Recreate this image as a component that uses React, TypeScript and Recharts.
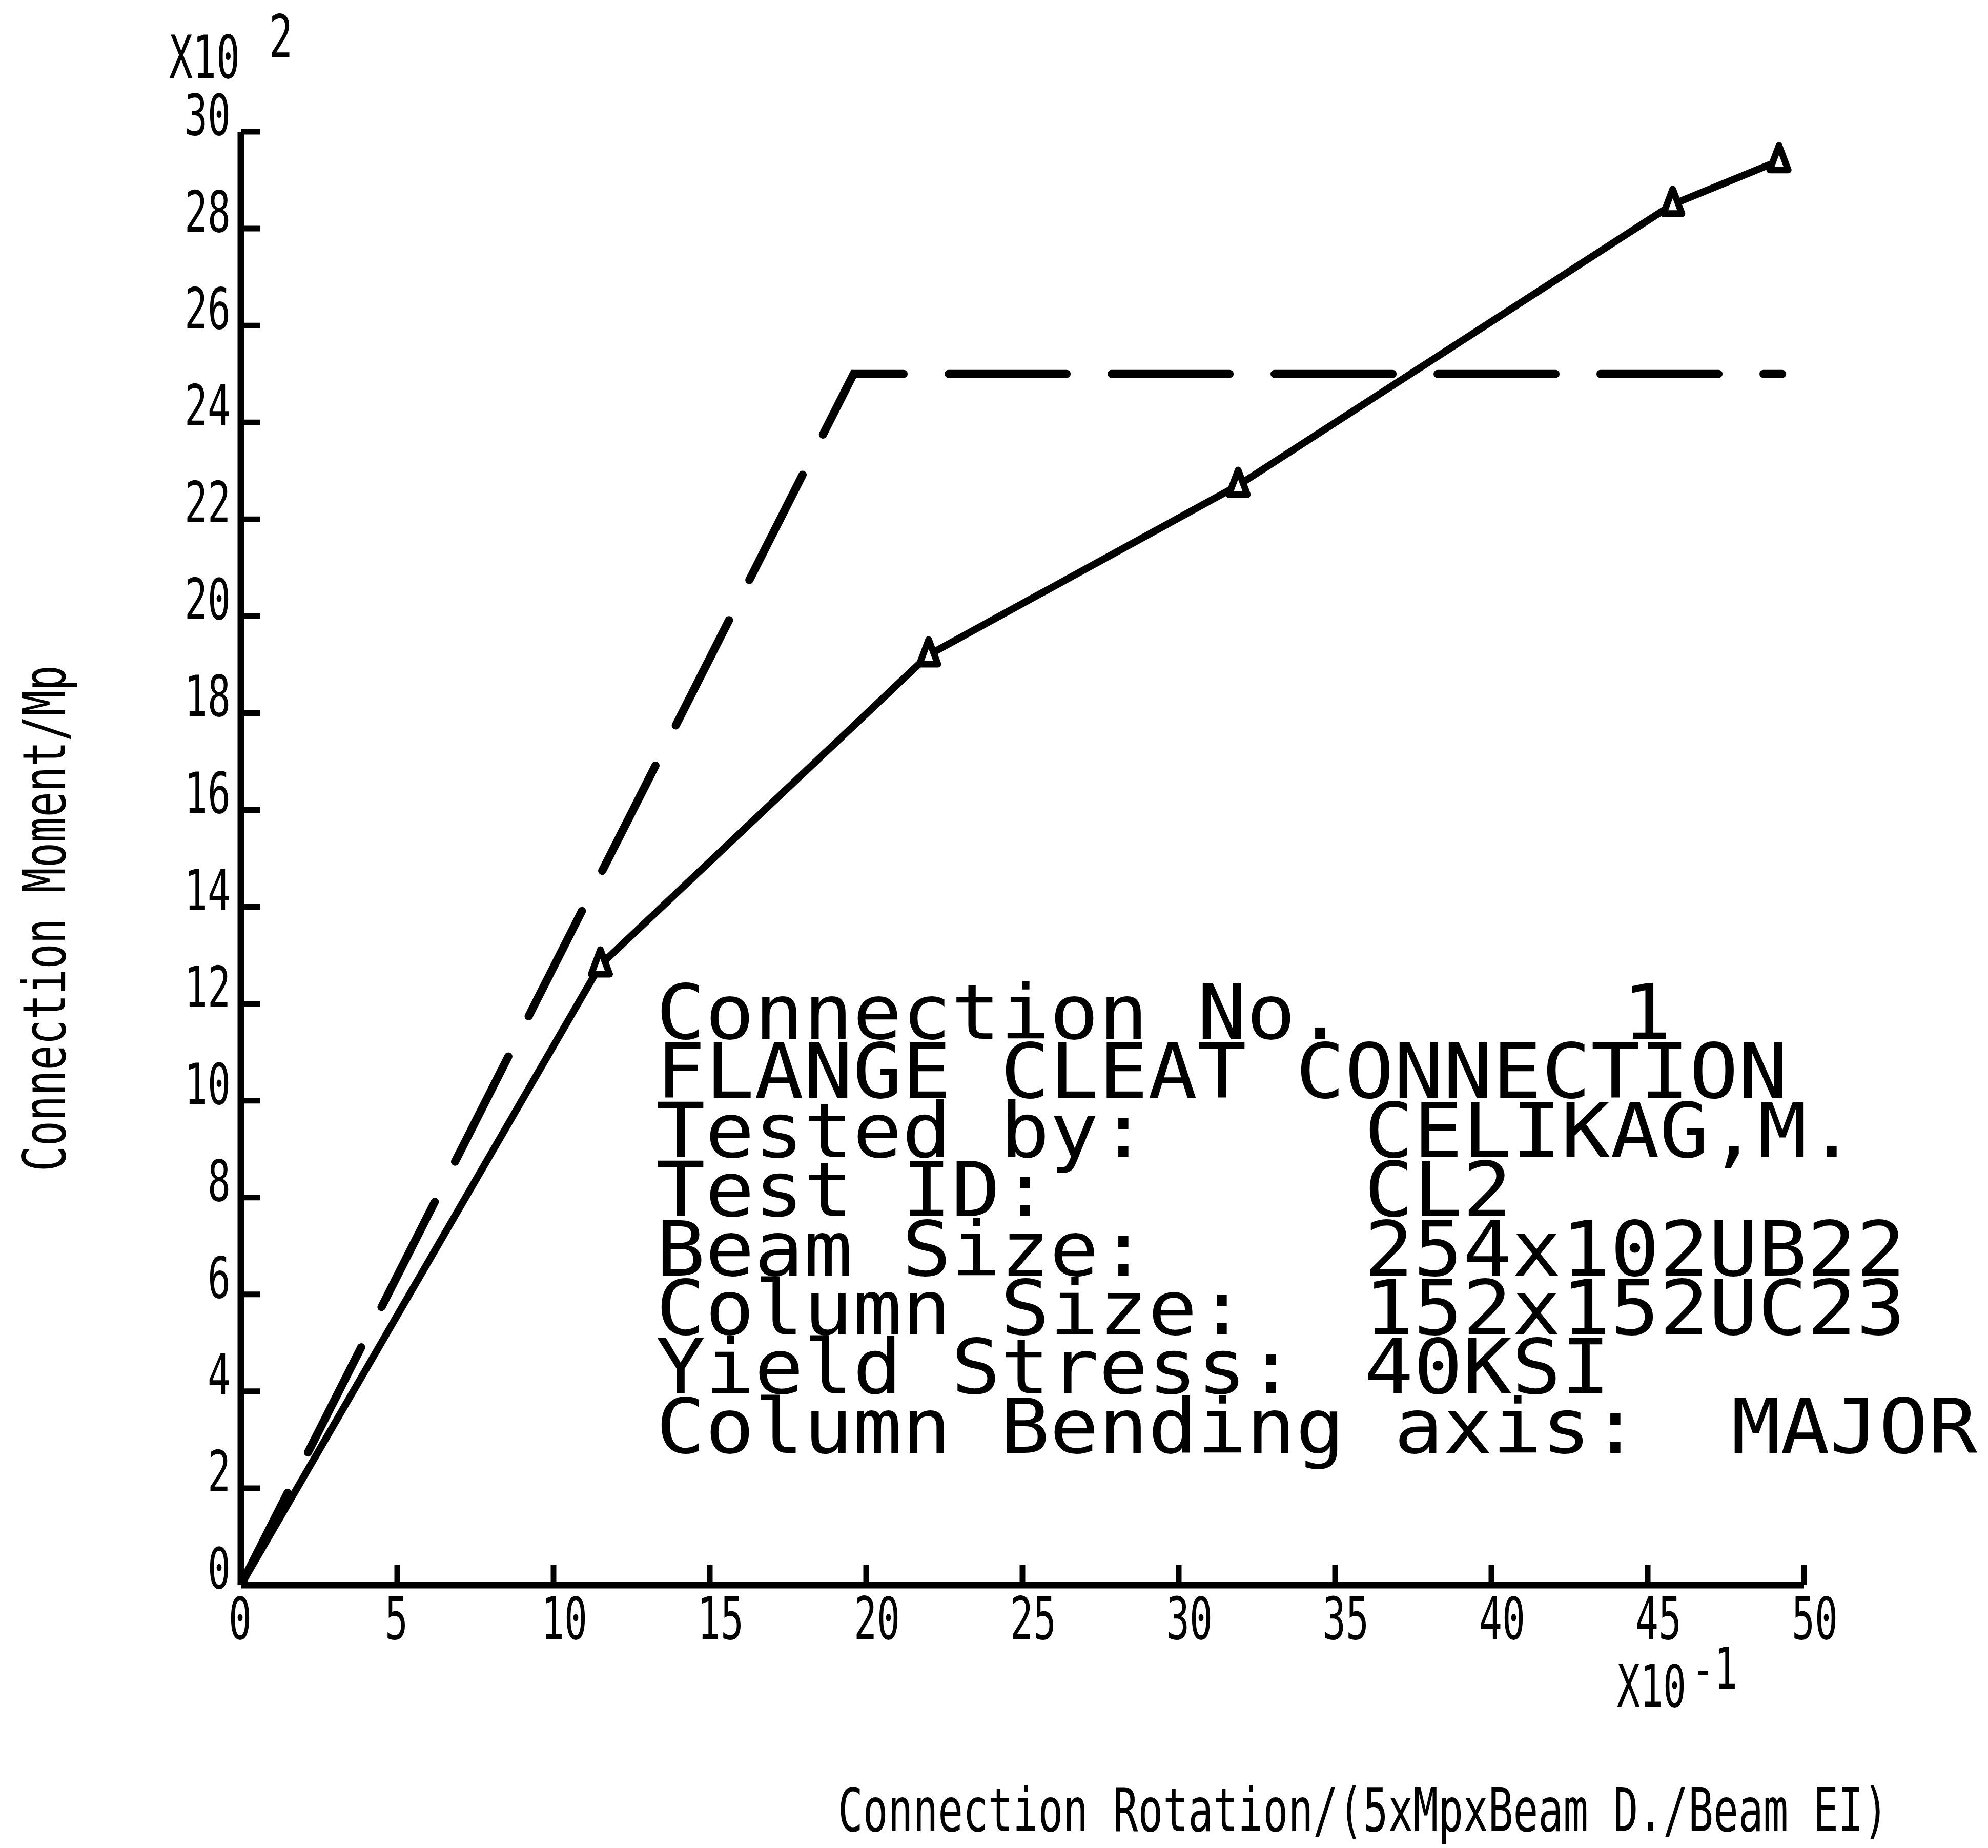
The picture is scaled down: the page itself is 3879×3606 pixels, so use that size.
import React from 'react';
import { LineChart, Line, XAxis, YAxis } from 'recharts';

const W = 3879;
const H = 3606;
const MONO = "'DejaVu Sans Mono', 'Liberation Mono', monospace";
const ADV = 0.602; // advance width of the mono face, in em
const CAP = 0.729; // cap height of the mono face, in em

// Rotation axis (x10^-1) and moment axis (x10^2)
const rotationTicks = [0, 5, 10, 15, 20, 25, 30, 35, 40, 45, 50];
const momentTicks = [0, 2, 4, 6, 8, 10, 12, 14, 16, 18, 20, 22, 24, 26, 28, 30];

// Test CL2 – measured moment/rotation points
const testRotation = [0, 11.5, 22.0, 31.9, 45.8, 49.2];
const testMoment = [0, 12.8, 19.2, 22.7, 28.5, 29.4];

// Bilinear idealisation
const modelRotation = [0, 19.6, 49.3];
const modelMoment = [0, 25.0, 25.0];

// Connection description block
const infoLabels = [
  'Connection No.',
  'FLANGE CLEAT CONNECTION',
  'Tested by:',
  'Test ID:',
  'Beam Size:',
  'Column Size:',
  'Yield Stress:',
  'Column Bending axis:',
];
const infoValues = ['1', '', 'CELIKAG,M.', 'CL2', '254x102UB22', '152x152UC23', '40KSI', 'MAJOR'];

const testSeries = testRotation.map((r, i) => ({ r, m: testMoment[i] }));
const modelSeries = modelRotation.map((r, i) => ({ r, m: modelMoment[i] }));

const PLOT = { left: 470, right: 3520, top: 257, bottom: 3093 };
const AXIS_W = 2;

type CTProps = {
  x: number;
  y: number;
  text: string;
  charW: number;
  capH: number;
};

// Plotter-style lettering: fixed pitch, stretched vertically
const CondensedText = ({ x, y, text, charW, capH }: CTProps) => {
  const size = charW / ADV;
  const sy = capH / (CAP * size);
  return (
    <text
      transform={`translate(${x},${y}) scale(1,${sy.toFixed(4)})`}
      x={0}
      y={0}
      fontSize={size}
      fontFamily={MONO}
      fill="#000"
      style={{ whiteSpace: 'pre' }}
    >
      {text}
    </text>
  );
};

// The description panel as one multi-line text
const InfoBlock = ({ x, y, pitch, charW, capH }: { x: number; y: number; pitch: number; charW: number; capH: number }) => {
  const size = charW / ADV;
  const sy = capH / (CAP * size);
  const valueX = (i: number) => (i === 0 ? 3165 : i === 7 ? 3378 : 2662) - x;
  return (
    <text
      transform={`translate(${x},${y}) scale(1,${sy.toFixed(4)})`}
      fontSize={size}
      fontFamily={MONO}
      fill="#000"
      style={{ whiteSpace: 'pre' }}
    >
      {infoLabels.map((label, i) => (
        <React.Fragment key={`row-${i}`}>
          <tspan x={0} y={(i * pitch) / sy}>
            {label}
          </tspan>
          {infoValues[i] ? (
            <tspan x={valueX(i)} y={(i * pitch) / sy}>
              {infoValues[i]}
            </tspan>
          ) : null}
        </React.Fragment>
      ))}
    </text>
  );
};

const XTick = (props: any) => {
  const { x, y, payload } = props;
  const label = String(payload.value);
  return (
    <g>
      <line x1={x} y1={y} x2={x} y2={y - 40} stroke="#000" strokeWidth={11} />
      <CondensedText x={x - 24} y={y + 105} text={label} charW={45} capH={83} />
    </g>
  );
};

const YTick = (props: any) => {
  const { x, y, payload } = props;
  const label = String(payload.value);
  const w = label.length * 45;
  return (
    <g>
      <line x1={x} y1={y} x2={x + 38} y2={y} stroke="#000" strokeWidth={11} />
      <CondensedText x={x - 20 - w} y={y + 6} text={label} charW={45} capH={80} />
    </g>
  );
};

const TriangleDot = (props: any) => {
  const { cx, cy, index } = props;
  if (index === 0 || cx == null || cy == null) return <g key={`dot-${index}`} />;
  return (
    <polygon
      key={`dot-${index}`}
      points={`${cx},${cy - 30} ${cx - 18},${cy + 18} ${cx + 18},${cy + 18}`}
      fill="#fff"
      stroke="#000"
      strokeWidth={13}
      strokeLinejoin="round"
    />
  );
};

export default function App() {
  return (
    <div style={{ position: 'absolute', left: 0, top: 0, width: W, height: H, background: '#fff' }}>
      <div style={{ position: 'absolute', left: 0, top: 0 }}>
        <LineChart
          width={W}
          height={H}
          margin={{
            top: PLOT.top,
            right: W - PLOT.right,
            bottom: H - PLOT.bottom - AXIS_W,
            left: PLOT.left - AXIS_W,
          }}
        >
          <XAxis
            type="number"
            dataKey="r"
            domain={[0, 50]}
            ticks={rotationTicks}
            interval={0}
            height={AXIS_W}
            tickSize={0}
            tickMargin={0}
            tickLine={false}
            axisLine={{ stroke: '#000', strokeWidth: 13 }}
            tick={<XTick />}
            allowDataOverflow
          />
          <YAxis
            type="number"
            dataKey="m"
            domain={[0, 30]}
            ticks={momentTicks}
            interval={0}
            width={AXIS_W}
            tickSize={0}
            tickMargin={0}
            tickLine={false}
            axisLine={{ stroke: '#000', strokeWidth: 13 }}
            tick={<YTick />}
            allowDataOverflow
          />
          <Line
            data={modelSeries}
            dataKey="m"
            type="linear"
            stroke="#000"
            strokeWidth={16}
            strokeDasharray="230 88"
            strokeDashoffset={28}
            strokeLinecap="round"
            dot={false}
            activeDot={false}
            isAnimationActive={false}
          />
          <Line
            data={testSeries}
            dataKey="m"
            type="linear"
            stroke="#000"
            strokeWidth={14}
            dot={TriangleDot}
            activeDot={false}
            isAnimationActive={false}
          />
        </LineChart>
      </div>
      <svg
        width={W}
        height={H}
        style={{ position: 'absolute', left: 0, top: 0, pointerEvents: 'none' }}
      >
        {/* axis multipliers */}
        <CondensedText x={330} y={152} text="X10" charW={46} capH={85} />
        <CondensedText x={525} y={112} text="2" charW={46} capH={85} />
        <CondensedText x={3155} y={3330} text="X10" charW={45} capH={83} />
        <CondensedText x={3300} y={3295} text="-1" charW={45} capH={82} />

        {/* axis titles */}
        <g transform="translate(127,1793) rotate(-90)">
          <CondensedText x={-493} y={0} text="Connection Moment/Mp" charW={49.4} capH={84} />
        </g>
        <CondensedText
          x={1635}
          y={3573}
          text="Connection Rotation/(5xMpxBeam D./Beam EI)"
          charW={48.8}
          capH={86}
        />

        {/* connection description */}
        <InfoBlock x={1280} y={2027} pitch={115.4} charW={96} capH={108} />
      </svg>
    </div>
  );
}
